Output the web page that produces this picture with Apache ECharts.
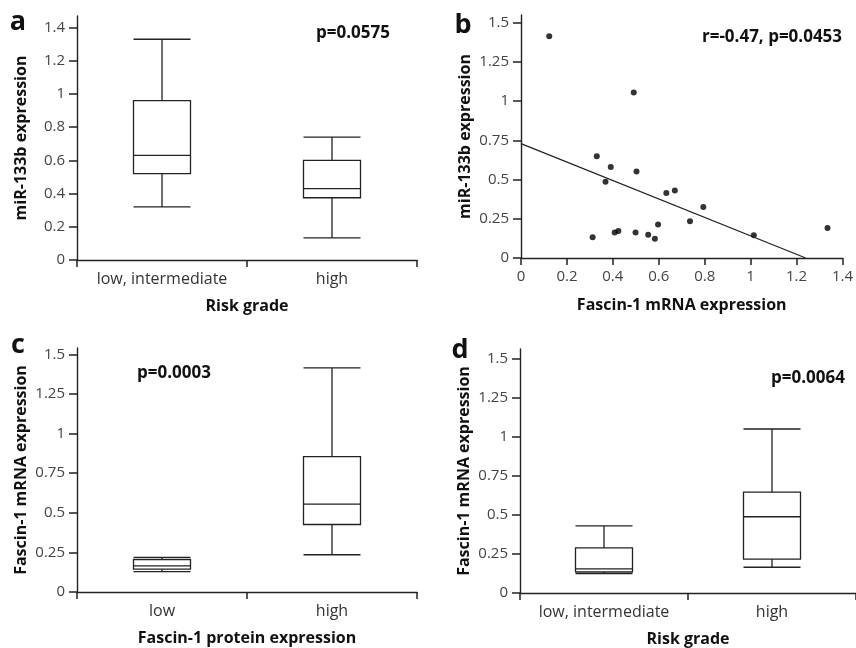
<!DOCTYPE html>
<html>
<head>
<meta charset="utf-8">
<script src="https://cdn.jsdelivr.net/npm/echarts@6/dist/echarts.min.js"></script>
<style>
  html, body { margin: 0; padding: 0; background: #fff; }
  #chart { width: 856px; height: 648px; }
</style>
</head>
<body>
<div id="chart"></div>
<script>
// panel a / d categories
const riskGrades = ["low, intermediate", "high"];
const proteinLevels = ["low", "high"];

// box data: [min, Q1, median, Q3, max]
const mirByRisk = [
  [0.32, 0.52, 0.63, 0.96, 1.33],
  [0.133, 0.375, 0.43, 0.60, 0.74]
];
const fascinByProtein = [
  [0.128, 0.145, 0.165, 0.205, 0.218],
  [0.235, 0.426, 0.554, 0.854, 1.414]
];
const fascinByRisk = [
  [0.125, 0.135, 0.155, 0.29, 0.431],
  [0.165, 0.217, 0.489, 0.647, 1.052]
];

// panel b: [fascin-1 mRNA, miR-133b]
const scatterPts = [
  [0.123, 1.415], [0.491, 1.055], [0.33, 0.649], [0.391, 0.581],
  [0.368, 0.487], [0.503, 0.551], [0.633, 0.415], [0.67, 0.43],
  [0.794, 0.326], [0.736, 0.234], [0.597, 0.213], [0.312, 0.132],
  [0.408, 0.162], [0.424, 0.172], [0.499, 0.162], [0.554, 0.149],
  [0.583, 0.123], [1.014, 0.145], [1.335, 0.191]
];
const fitLine = [[0, 0.73], [1.24, 0]];

const FONT = "Open Sans";
const ink = "#222";

function yAxis(grid, max, step, name) {
  return {
    type: "value", gridIndex: grid, min: 0, max: max, interval: step,
    name: name, nameLocation: "middle", nameGap: 48, nameRotate: 90,
    nameTextStyle: { fontFamily: FONT, fontWeight: "bold", fontSize: 16, color: "#111" },
    splitLine: { show: true, lineStyle: { color: "rgba(0,0,0,0)" } },
    axisLine: { show: true, lineStyle: { color: ink, width: 1.4 } },
    axisTick: { show: true, inside: false, length: 8, lineStyle: { color: ink, width: 1.5 } },
    axisLabel: { margin: 12, showMaxLabel: false,
      fontFamily: FONT, fontSize: 15, color: "#444" }
  };
}

function catAxis(grid, cats, name) {
  return {
    type: "category", gridIndex: grid, data: cats,
    name: name, nameLocation: "middle", nameGap: 38,
    nameTextStyle: { fontFamily: FONT, fontWeight: "bold", fontSize: 16, color: "#111" },
    axisLine: { lineStyle: { color: ink, width: 1.4 } },
    axisTick: { show: true, length: 7, lineStyle: { color: ink, width: 1.5 } },
    axisLabel: { interval: 0, hideOverlap: false, margin: 11,
      fontFamily: FONT, fontSize: 16, color: "#333" }
  };
}

function box(axisIdx, data) {
  return {
    type: "boxplot", xAxisIndex: axisIdx, yAxisIndex: axisIdx,
    data: data, boxWidth: [57, 57],
    itemStyle: { color: "#fff", borderColor: ink, borderWidth: 1.3 },
    emphasis: { disabled: true }
  };
}

function label(x, y, text, size) {
  return {
    type: "text", x: x, y: y,
    style: { text: text, fontFamily: FONT, fontWeight: "bold", fontSize: size,
      fill: "#111", align: "center", verticalAlign: "middle" }
  };
}

const chart = echarts.init(document.getElementById("chart"));
chart.setOption({
  animation: false,
  grid: [
    { left: 77, top: 16, width: 340, height: 244 },
    { left: 521, top: 15, width: 327, height: 243 },
    { left: 77, top: 348, width: 340, height: 244 },
    { left: 520, top: 349, width: 342, height: 244 }
  ],
  xAxis: [
    catAxis(0, riskGrades, "Risk grade"),
    {
      type: "value", gridIndex: 1, min: 0, max: 1.4, interval: 0.2,
      name: "Fascin-1 mRNA expression", nameLocation: "middle", nameGap: 39,
      nameTextStyle: { fontFamily: FONT, fontWeight: "bold", fontSize: 16, color: "#111" },
      splitLine: { show: true, lineStyle: { color: "rgba(0,0,0,0)" } },
      axisLine: { lineStyle: { color: ink, width: 1.4 } },
      axisTick: { show: true, length: 7, lineStyle: { color: ink, width: 1.5 } },
      axisLabel: { margin: 11, fontFamily: FONT, fontSize: 15, color: "#444" }
    },
    catAxis(2, proteinLevels, "Fascin-1 protein expression"),
    catAxis(3, riskGrades, "Risk grade")
  ],
  yAxis: [
    yAxis(0, 1.47, 0.2, "miR-133b expression"),
    yAxis(1, 1.55, 0.25, "miR-133b expression"),
    yAxis(2, 1.54, 0.25, "Fascin-1 mRNA expression"),
    yAxis(3, 1.565, 0.25, "Fascin-1 mRNA expression")
  ],
  series: [
    box(0, mirByRisk),
    {
      type: "scatter", xAxisIndex: 1, yAxisIndex: 1, data: scatterPts,
      symbolSize: 6, itemStyle: { color: "#000" }
    },
    {
      type: "line", xAxisIndex: 1, yAxisIndex: 1, data: fitLine,
      symbol: "none", lineStyle: { color: ink, width: 1.3 }
    },
    box(2, fascinByProtein),
    box(3, fascinByRisk)
  ],
  graphic: [
    label(18, 22, "a", 27),
    label(463, 25, "b", 27),
    label(18, 345, "c", 27),
    label(460, 350, "d", 27),
    label(353, 33, "p=0.0575", 17),
    label(772, 37, "r=-0.47, p=0.0453", 17),
    label(174, 373, "p=0.0003", 17),
    label(808, 378, "p=0.0064", 17)
  ]
});
</script>
</body>
</html>
